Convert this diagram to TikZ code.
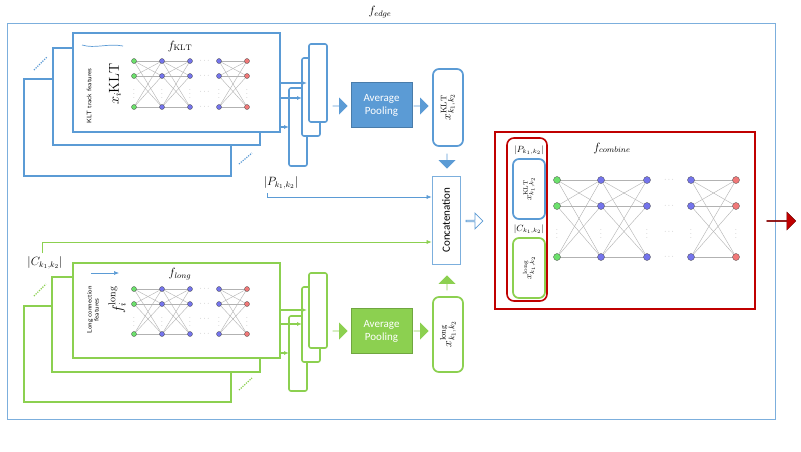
\documentclass[tikz,border=0pt]{standalone}
\usepackage{fontspec}
\newfontfamily\carl{Carlito}
\usetikzlibrary{shapes.arrows,arrows.meta}
\definecolor{cb}{HTML}{5B9BD5}
\definecolor{cg}{HTML}{8CD050}
\definecolor{cr}{HTML}{C00000}
\definecolor{ng}{HTML}{6CE06C}
\definecolor{nb}{HTML}{7474EC}
\definecolor{nr}{HTML}{F07878}
\tikzset{
 card/.style={draw=#1,line width=1.9pt,fill=white},
 tall/.style={draw=#1,line width=1.6pt,rounded corners=2pt,fill=white},
 pool/.style={draw=#1!80!black,fill=#1,text=white,font=\carl\fontsize{11}{13}\selectfont,align=center,minimum width=61pt,minimum height=45pt,inner sep=0pt},
 barrow/.style={single arrow,fill=#1,draw=none,minimum height=15pt,minimum width=17pt,single arrow head extend=3.5pt,inner sep=0pt},
 thinarr/.style={draw=#1,line width=0.6pt,-{Latex[length=5pt,width=4pt]}},
 dotl/.style={draw=#1,line width=1.2pt,dash pattern=on 1.2pt off 1.2pt},
 vbox/.style={draw=#1,line width=1.7pt,rounded corners=6pt,fill=white},
}
\newcommand\drawnet[9]{%
 \foreach \a/\b in {#1/#2,#2/#3,#4/#5}{
  \foreach \r in {#6,#7,#8}{\foreach \s in {#6,#7,#8}{
   \draw[black!30,line width=0.4pt] (\a,\r)--(\b,\s);}}}
 \foreach \r in {#6,#7,#8}{
  \filldraw[fill=ng,draw=black!70,line width=0.3pt] (#1,\r) circle (#9);
  \foreach \c in {#2,#3,#4}{\filldraw[fill=nb,draw=black!70,line width=0.3pt] (\c,\r) circle (#9);}
  \filldraw[fill=nr,draw=black!70,line width=0.3pt] (#5,\r) circle (#9);
  \node[black!40,font=\scriptsize,inner sep=0pt] at ({(#3+#4)/2},\r) {$\cdots$};}
 \foreach \c in {#1,#2,#3,#4,#5}{\node[black!40,font=\scriptsize,inner sep=0pt] at (\c,{(#7+#8)/2}) {$\vdots$};}
 \node[black!40,font=\scriptsize,inner sep=0pt] at ({(#3+#4)/2},{(#7+#8)/2}) {$\cdots$};
}
\begin{document}
\begin{tikzpicture}[x=1pt,y=-1pt]
\useasboundingbox (0,0) rectangle (801,451);
\fill[white] (0,0) rectangle (801,451);
\draw[cb!80,line width=0.9pt] (7,23) rectangle (775,419);
\node[font=\large] (fedge) at (380,12) {$f_{edge}$};
% ===== KLT stack
\draw[card=cb] (24,79) rectangle (231,176);
\draw[card=cb] (53,48) rectangle (260,145);
\draw[card=cb] (73,33) rectangle (280,132);
\draw[dotl=cb] (34,70)--(47,57);
\draw[dotl=cb] (239,164)--(252,153);
\draw[cb,line width=0.7pt] (82,45) .. controls (95,49) and (108,43) .. (123,46);
\node[font=\large] (fklt) at (180,46) {$f_{\mathrm{KLT}}$};
\node[rotate=90,font=\sffamily\fontsize{6.5}{7}\selectfont] (kltf) at (89,96) {KLT track features};
\node[rotate=90,font=\Large] (xklt) at (115,84) {$x_i\mathrm{KLT}$};
\drawnet{134}{162}{190}{219}{247}{61}{76}{107}{2.5pt}
\draw[tall=cb] (289,88) rectangle (307,166);
\draw[tall=cb] (302,58) rectangle (320,136);
\draw[tall=cb] (309,44) rectangle (327,122);
\coordinate (ka1) at (280,83); \coordinate (ka2) at (280,98); \coordinate (ka3) at (280,127);
\draw[thinarr=cb,line width=1.4pt] (ka1)--(307,83);
\draw[thinarr=cb,line width=1.4pt] (ka2)--(302,98);
\draw[thinarr=cb,line width=1.4pt] (ka3)--(289,127);
\node[barrow=cb] (ba1) at (340,106) {};
\node[pool=cb] (pk) at (381.5,105) {Average\\Pooling};
\node[barrow=cb] (ba2) at (421,106) {};
\draw[vbox=cb] (433,69) rectangle (463,146);
\node[rotate=90,font=\large] (xk) at (448,107) {$x^{\mathrm{KLT}}_{k_1,k_2}$};
\node[barrow=cb,shape border rotate=270] (bd) at (447,161) {};
\node[draw=cb!80,line width=0.7pt,minimum width=28pt,minimum height=88pt,fill=white] (cc) at (446,220) {};
\node[rotate=90,font=\carl\fontsize{11}{12}\selectfont] at (cc) {Concatenation};
\node[single arrow,draw=cb,fill=white,line width=0.7pt,minimum height=17pt,minimum width=16pt,single arrow head extend=3pt,inner sep=0pt] (ho) at (474,221) {};
\node[font=\large] (plab) at (281,183) {$|P_{k_1,k_2}|$};
\draw[thinarr=cb] (267,193)--(267,197)--(cc.west|-0,197);
% ===== long stack
\draw[card=cg] (24,306) rectangle (231,402);
\draw[card=cg] (52,277) rectangle (260,372);
\draw[card=cg] (73,263) rectangle (280,358);
\draw[dotl=cg] (34,296)--(46,284);
\draw[dotl=cg] (239,390)--(252,378);
\draw[thinarr=cb] (91,273)--(119,273);
\node[font=\large] (flong) at (180,274) {$f_{long}$};
\node[rotate=90,font=\sffamily\fontsize{6.5}{7}\selectfont,align=center] (lcf) at (93,310) {Long connection\\features};
\node[rotate=90,font=\Large] (xl) at (117,300) {$f_i^{\mathrm{long}}$};
\drawnet{134}{162}{190}{219}{247}{289}{304}{334}{2.5pt}
\draw[tall=cg] (289,316) rectangle (307,391);
\draw[tall=cg] (302,287) rectangle (320,362);
\draw[tall=cg] (309,273) rectangle (327,348);
\coordinate (la1) at (280,310); \coordinate (la2) at (280,324); \coordinate (la3) at (280,353);
\draw[thinarr=cg,line width=1.4pt] (la1)--(307,310);
\draw[thinarr=cg,line width=1.4pt] (la2)--(302,324);
\draw[thinarr=cg,line width=1.4pt] (la3)--(289,353);
\node[barrow=cg] (bl1) at (340,331) {};
\node[pool=cg] (pl) at (381.5,331) {Average\\Pooling};
\node[barrow=cg] (bl2) at (421,331) {};
\draw[vbox=cg] (433,297) rectangle (463,372);
\node[rotate=90,font=\large] (xlg) at (448,334) {$x^{\mathrm{long}}_{k_1,k_2}$};
\node[barrow=cg,shape border rotate=90] (bu) at (447,283) {};
\node[font=\large] (clab) at (45,263) {$|C_{k_1,k_2}|$};
\draw[thinarr=cg] (42,253)--(42,242)--(cc.west|-0,242);
% ===== combine
\draw[draw=cr,line width=1.6pt] (495,132) rectangle (755,309);
\draw[draw=cr,line width=1.6pt,rounded corners=7pt] (507,138) rectangle (547,301);
\node[font=\small] (pl2) at (529,150) {$|P_{k_1,k_2}|$};
\draw[vbox=cb] (513,159) rectangle (545,219);
\node[rotate=90,font=\small] (xk2) at (529,189) {$x^{\mathrm{KLT}}_{k_1,k_2}$};
\node[font=\small] (cl2) at (529,229) {$|C_{k_1,k_2}|$};
\draw[vbox=cg] (513,238) rectangle (545,298);
\node[rotate=90,font=\small] (xl2) at (529,268) {$x^{\mathrm{long}}_{k_1,k_2}$};
\node[font=\large] (fcomb) at (612,148) {$f_{combine}$};
\drawnet{557}{601}{647}{691}{736}{180}{206}{257}{3.5pt}
\node[single arrow,fill=cr,draw=cr!60!black,line width=0.4pt,minimum height=29pt,minimum width=18pt,single arrow head extend=3pt,inner sep=0pt] (ro) at (781,221) {};
\end{tikzpicture}
\end{document}
